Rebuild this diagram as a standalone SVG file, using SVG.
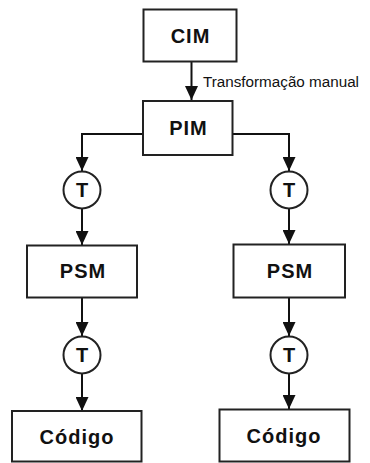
<svg xmlns="http://www.w3.org/2000/svg" width="370" height="463" viewBox="0 0 370 463">
<style>
.box{fill:#fff;stroke:#222;stroke-width:2}
.lbl{font-family:"Liberation Sans",Arial,sans-serif;font-weight:bold;font-size:20px;letter-spacing:1px;fill:#111;text-anchor:middle;dominant-baseline:central}
.t{font-family:"Liberation Sans",Arial,sans-serif;font-weight:bold;font-size:20px;fill:#111;text-anchor:middle;dominant-baseline:central}
.circ{fill:#fff;stroke:#222;stroke-width:2}
.con{fill:none;stroke:#111;stroke-width:2}
.note{font-family:"Liberation Sans",Arial,sans-serif;font-size:15.5px;fill:#111}
</style>
<defs>
<marker id="arr" markerUnits="userSpaceOnUse" markerWidth="14" markerHeight="13" viewBox="0 0 14 13" refX="14" refY="6.5" orient="auto">
<path d="M0,0 L14,6.5 L0,13 Z" fill="#111"/>
</marker>
</defs>
<g id="connectors">
<line class="con" x1="191.5" y1="62" x2="191.5" y2="100" marker-end="url(#arr)"/>
<text class="note" x="203" y="87" textLength="156" lengthAdjust="spacingAndGlyphs">Transformação manual</text>
<polyline class="con" points="142,134 82,134 82,171" marker-end="url(#arr)"/>
<polyline class="con" points="233,134 289,134 289,171" marker-end="url(#arr)"/>
<line class="con" x1="82" y1="209" x2="82" y2="245" marker-end="url(#arr)"/>
<line class="con" x1="289" y1="209" x2="289" y2="244" marker-end="url(#arr)"/>
<line class="con" x1="82" y1="297" x2="82" y2="336" marker-end="url(#arr)"/>
<line class="con" x1="289" y1="297" x2="289" y2="336" marker-end="url(#arr)"/>
<line class="con" x1="82" y1="374" x2="82" y2="411" marker-end="url(#arr)"/>
<line class="con" x1="289" y1="374" x2="289" y2="409" marker-end="url(#arr)"/>
</g>
<g id="cim"><rect class="box" x="143.5" y="9.5" width="93" height="52"/><text class="lbl" x="190.5" y="35.5">CIM</text></g>
<g id="pim"><rect class="box" x="143" y="101" width="89.5" height="54"/><text class="lbl" x="188.5" y="128">PIM</text></g>
<g id="t1"><circle class="circ" cx="82" cy="190" r="18.5"/><text class="t" x="82" y="190">T</text></g>
<g id="t2"><circle class="circ" cx="289" cy="190" r="18.5"/><text class="t" x="289" y="190">T</text></g>
<g id="psm1"><rect class="box" x="27" y="245.5" width="110" height="52"/><text class="lbl" x="83" y="271">PSM</text></g>
<g id="psm2"><rect class="box" x="233.5" y="244.5" width="111.5" height="53"/><text class="lbl" x="290" y="270.5">PSM</text></g>
<g id="t3"><circle class="circ" cx="82" cy="355" r="18.5"/><text class="t" x="82" y="355">T</text></g>
<g id="t4"><circle class="circ" cx="289" cy="355" r="18.5"/><text class="t" x="289" y="355">T</text></g>
<g id="codigo1"><rect class="box" x="12" y="411" width="129.5" height="50.5"/><text class="lbl" x="77" y="437">Código</text></g>
<g id="codigo2"><rect class="box" x="219.5" y="409.5" width="130" height="52"/><text class="lbl" x="284" y="435.5">Código</text></g>
</svg>
